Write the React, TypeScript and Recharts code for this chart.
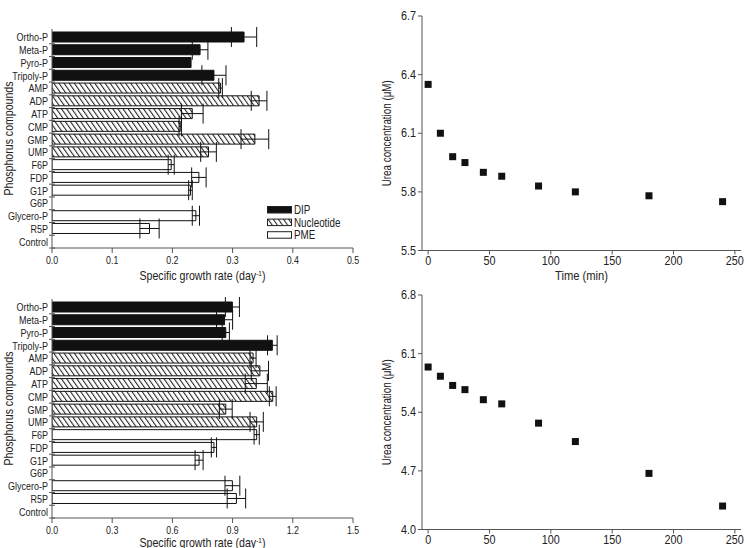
import React from "react";
import {
  BarChart,
  Bar,
  Cell,
  XAxis,
  YAxis,
  ErrorBar,
  Legend,
  Label,
  ScatterChart,
  Scatter,
} from "recharts";

const FONT = '"Liberation Sans", Arial, sans-serif';
const INK = "#222";
const AXIS = "#555";

// categories (top to bottom) and which group each belongs to
const compounds = [
  "Ortho-P", "Meta-P", "Pyro-P", "Tripoly-P",
  "AMP", "ADP", "ATP", "CMP", "GMP", "UMP",
  "F6P", "FDP", "G1P", "G6P", "Glycero-P", "R5P", "Control",
];
const compoundGroup = [
  "DIP", "DIP", "DIP", "DIP",
  "Nucleotide", "Nucleotide", "Nucleotide", "Nucleotide", "Nucleotide", "Nucleotide",
  "PME", "PME", "PME", "PME", "PME", "PME", "PME",
];
const groupNames = ["DIP", "Nucleotide", "PME"];

// specific growth rate (day-1) and its error
const cochRate = [0.319, 0.246, 0.231, 0.269, 0.280, 0.344, 0.233, 0.213, 0.337, 0.260, 0.198, 0.244, 0.230, 0, 0.239, 0.162, 0];
const cochErr = [0.021, 0.013, 0, 0.02, 0.003, 0.013, 0.018, 0.002, 0.023, 0.013, 0.005, 0.012, 0.003, 0, 0.006, 0.016, 0];
const skelRate = [0.899, 0.86, 0.866, 1.098, 1.002, 1.036, 1.018, 1.1, 0.866, 1.02, 1.02, 0.807, 0.733, 0, 0.899, 0.919, 0];
const skelErr = [0.035, 0.04, 0.018, 0.024, 0.015, 0.043, 0.055, 0.017, 0.032, 0.033, 0.013, 0.013, 0.02, 0, 0.037, 0.046, 0];
const cochRateTicks = [0, 0.1, 0.2, 0.3, 0.4, 0.5];
const skelRateTicks = [0, 0.3, 0.6, 0.9, 1.2, 1.5];

// urea uptake time course
const timeMin = [0, 10, 20, 30, 45, 60, 90, 120, 180, 240];
const cochUrea = [6.35, 6.1, 5.98, 5.95, 5.9, 5.88, 5.83, 5.8, 5.78, 5.75];
const skelUrea = [5.94, 5.83, 5.72, 5.67, 5.55, 5.5, 5.27, 5.05, 4.67, 4.28];
const timeTicks = [0, 50, 100, 150, 200, 250];
const cochUreaTicks = [5.5, 5.8, 6.1, 6.4, 6.7];
const skelUreaTicks = [4.0, 4.7, 5.4, 6.1, 6.8];

const groupFill = (g: string, hatchId: string) =>
  g === "DIP" ? "#111" : g === "Nucleotide" ? `url(#${hatchId})` : "#fff";

// condensed-looking text: no narrow font is installed, so squeeze horizontally
const NText = ({ x, y, anchor = "start", size = 11, sx = 0.82, rotate = 0, length, children }: any) => (
  <text
    transform={`translate(${x},${y}) rotate(${rotate}) scale(${sx},1)`}
    textAnchor={anchor}
    fontSize={size}
    fontFamily={FONT}
    fill={INK}
    textLength={length}
    lengthAdjust={length ? "spacingAndGlyphs" : undefined}
  >
    {children}
  </text>
);

// category label plus a small "+" mark on the axis at the band boundary
const BAND_HALF = 6.4;
const CompoundTick = (props: any) => {
  const { x, y, payload } = props;
  return (
    <g>
      <NText x={x} y={y + 4} anchor="end" size={11}>
        {payload.value}
      </NText>
      <line x1={x + 1} x2={x + 7} y1={y + BAND_HALF} y2={y + BAND_HALF} stroke={AXIS} />
    </g>
  );
};

const NumTickX = (props: any) => {
  const { x, y, payload, digits = 1, size = 11, sx = 0.8, dy = 8 } = props;
  return (
    <NText x={x} y={y + dy} anchor="middle" size={size} sx={sx}>
      {Number(payload.value).toFixed(digits)}
    </NText>
  );
};

const NumTickY = (props: any) => {
  const { x, y, payload, digits = 1, size = 12, sx = 0.9 } = props;
  return (
    <NText x={x} y={y + 4} anchor="end" size={size} sx={sx}>
      {Number(payload.value).toFixed(digits)}
    </NText>
  );
};

const Square = (props: any) => (
  <rect x={props.cx - 3.5} y={props.cy - 3.5} width={7} height={7} fill="#111" />
);

const legendContent = (hatchId: string) => () => (
  <svg width={95} height={46} style={{ overflow: "visible" }}>
    {groupNames.map((g, i) => (
      <g key={g} transform={`translate(0, ${4 + i * 12.6})`}>
        <rect x={0.5} y={0.5} width={24} height={6.5} fill={groupFill(g, hatchId)} stroke="#222" />
        <NText x={27} y={8} size={12}>
          {g}
        </NText>
      </g>
    ))}
  </svg>
);

interface RateChartProps {
  title: React.ReactNode;
  titleLength: number;
  rates: number[];
  errs: number[];
  ticks: number[];
  hatchId: string;
  height: number;
  xAxisHeight: number;
  xTitleDy: number;
  showLegend?: boolean;
}

const RateChart: React.FC<RateChartProps> = ({
  title, titleLength, rates, errs, ticks, hatchId, height, xAxisHeight, xTitleDy, showLegend,
}) => {
  const data = compounds.map((name, i) => ({
    name,
    group: compoundGroup[i],
    rate: rates[i],
    err: errs[i],
  }));
  const max = ticks[ticks.length - 1];

  return (
    <BarChart
      width={370}
      height={height}
      data={data}
      layout="vertical"
      margin={{ top: 29, right: 17, bottom: height - 29 - 219 - xAxisHeight, left: 0 }}
    >
      <defs>
        <pattern id={hatchId} patternUnits="userSpaceOnUse" width={4.2} height={4.2} patternTransform="rotate(-35)">
          <rect width={4.2} height={4.2} fill="#fff" />
          <line x1={0.5} y1={0} x2={0.5} y2={4.2} stroke="#222" strokeWidth={1.1} />
        </pattern>
      </defs>
      <XAxis
        type="number"
        domain={[0, max]}
        ticks={ticks}
        tickSize={5}
        tickMargin={3}
        height={xAxisHeight}
        stroke={AXIS}
        tick={<NumTickX digits={1} />}
        allowDataOverflow
      >
        <Label
          content={(p: any) => (
            <NText
              x={p.viewBox.x + p.viewBox.width / 2}
              y={p.viewBox.y + xTitleDy}
              anchor="middle"
              size={13}
              sx={1}
              length={126}
            >
              Specific growth rate (day
              <tspan dy={-4} fontSize={8}>-1</tspan>
              <tspan dy={4}>)</tspan>
            </NText>
          )}
        />
      </XAxis>
      <XAxis xAxisId="top" orientation="top" type="number" domain={[0, 1]} height={0} tick={false} tickLine={false} stroke={AXIS}>
        <Label
          content={(p: any) => (
            <NText x={p.viewBox.x + 1} y={p.viewBox.y - 4} size={12} sx={1} length={titleLength}>
              {title}
            </NText>
          )}
        />
      </XAxis>
      <YAxis
        type="category"
        dataKey="name"
        width={52}
        tickSize={0}
        tickMargin={4}
        tick={<CompoundTick />}
        interval={0}
        padding={{ top: 2, bottom: 0 }}
        stroke={AXIS}
      >
        <Label
          content={(p: any) => (
            <NText
              x={p.viewBox.x + 12.5}
              y={p.viewBox.y + p.viewBox.height / 2}
              rotate={-90}
              anchor="middle"
              size={13}
              sx={1}
              length={114}
            >
              Phosphorus compounds
            </NText>
          )}
        />
      </YAxis>
      <YAxis yAxisId="right" orientation="right" type="number" domain={[0, 1]} width={0} tick={false} tickLine={false} stroke={AXIS} />
      <Bar dataKey="rate" barSize={10} stroke="#111" strokeWidth={1} isAnimationActive={false}>
        {data.map((d, i) => (
          <Cell key={i} fill={groupFill(d.group, hatchId)} />
        ))}
        <ErrorBar dataKey="err" direction="x" width={10} stroke="#111" strokeWidth={1} isAnimationActive={false} />
      </Bar>
      {showLegend && (
        <Legend
          layout="vertical"
          align="center"
          verticalAlign="middle"
          content={legendContent(hatchId)}
          wrapperStyle={{ left: 267, top: 201.5, width: 95, height: 46 }}
        />
      )}
    </BarChart>
  );
};

interface UreaChartProps {
  title: React.ReactNode;
  titleLength: number;
  titleDy: number;
  values: number[];
  ticks: number[];
  height: number;
  top: number;
  xAxisHeight: number;
  showXTitle?: boolean;
}

const UreaChart: React.FC<UreaChartProps> = ({
  title, titleLength, titleDy, values, ticks, height, top, xAxisHeight, showXTitle,
}) => {
  const data = timeMin.map((t, i) => ({ t, c: values[i] }));
  const plotH = 234.5;
  return (
    <ScatterChart
      width={377}
      height={height}
      margin={{ top, right: 6, bottom: height - top - plotH - xAxisHeight, left: 0 }}
    >
      <XAxis
        type="number"
        dataKey="t"
        domain={[-5, 255]}
        ticks={timeTicks}
        tickSize={4}
        tickMargin={2}
        height={xAxisHeight}
        stroke={AXIS}
        tick={<NumTickX digits={0} size={12} sx={0.9} dy={8.5} />}
        allowDataOverflow
      >
        {showXTitle && (
          <Label
            content={(p: any) => (
              <NText
                x={p.viewBox.x + p.viewBox.width / 2}
                y={p.viewBox.y + 29.8}
                anchor="middle"
                size={13}
                sx={1}
                length={53}
              >
                Time (min)
              </NText>
            )}
          />
        )}
      </XAxis>
      <XAxis xAxisId="top" orientation="top" type="number" domain={[0, 1]} height={0} tick={false} tickLine={false} stroke={AXIS}>
        <Label
          content={(p: any) => (
            <NText
              x={p.viewBox.x + p.viewBox.width - 8.3}
              y={p.viewBox.y + titleDy}
              anchor="end"
              size={13}
              sx={1}
              length={titleLength}
            >
              {title}
            </NText>
          )}
        />
      </XAxis>
      <YAxis
        type="number"
        dataKey="c"
        domain={[ticks[0], ticks[ticks.length - 1]]}
        ticks={ticks}
        tickSize={4}
        tickMargin={2}
        width={52}
        stroke={AXIS}
        tick={<NumTickY digits={1} />}
        allowDataOverflow
      >
        <Label
          content={(p: any) => (
            <NText
              x={p.viewBox.x + 21}
              y={p.viewBox.y + p.viewBox.height / 2}
              rotate={-90}
              anchor="middle"
              size={13}
              sx={1}
              length={106}
            >
              Urea concentration (μM)
            </NText>
          )}
        />
      </YAxis>
      <YAxis yAxisId="right" orientation="right" type="number" domain={[0, 1]} width={0} tick={false} tickLine={false} stroke={AXIS} />
      <Scatter data={data} shape={Square} isAnimationActive={false} />
    </ScatterChart>
  );
};

const App: React.FC = () => {
  return (
    <div style={{ position: "absolute", left: 0, top: 0, width: 747, height: 548, background: "#fff", overflow: "hidden" }}>
      <div style={{ position: "absolute", left: 0, top: 0 }}>
        <RateChart
          title={<tspan fontStyle="italic">Cochlodinium polykrikoides</tspan>}
          titleLength={125.7}
          rates={cochRate}
          errs={cochErr}
          ticks={cochRateTicks}
          hatchId="hatchTop"
          height={290}
          xAxisHeight={34}
          xTitleDy={31.5}
          showLegend
        />
      </div>
      <div style={{ position: "absolute", left: 0, top: 270 }}>
        <RateChart
          title={
            <>
              <tspan fontStyle="italic">Skeletonema</tspan>
              <tspan> sp.</tspan>
            </>
          }
          titleLength={77.3}
          rates={skelRate}
          errs={skelErr}
          ticks={skelRateTicks}
          hatchId="hatchBottom"
          height={278}
          xAxisHeight={30}
          xTitleDy={28.5}
        />
      </div>
      <div style={{ position: "absolute", left: 370, top: 0 }}>
        <UreaChart
          title={<tspan fontStyle="italic">Cochlodinium polykrikoides</tspan>}
          titleLength={133.3}
          titleDy={20.6}
          values={cochUrea}
          ticks={cochUreaTicks}
          height={290}
          top={16}
          xAxisHeight={30}
          showXTitle
        />
      </div>
      <div style={{ position: "absolute", left: 370, top: 270 }}>
        <UreaChart
          title={
            <>
              <tspan fontStyle="italic">Skeletonema</tspan>
              <tspan> sp.</tspan>
            </>
          }
          titleLength={82.3}
          titleDy={22}
          values={skelUrea}
          ticks={skelUreaTicks}
          height={278}
          top={25}
          xAxisHeight={19}
        />
      </div>
    </div>
  );
};

export default App;
